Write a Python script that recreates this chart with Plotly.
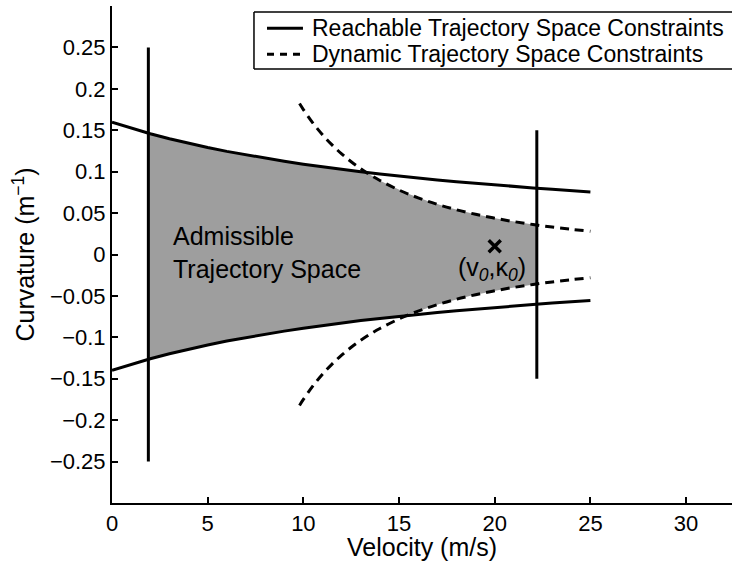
import numpy as np
import plotly.graph_objects as go

# ---- data ----
reach_v = [0, 1, 2, 3, 4, 5, 6, 7, 8, 9, 10, 11, 12, 13, 14, 15, 16, 17, 18, 19, 20, 21, 22, 23, 24, 25]
reach_upper = [0.1597, 0.1524, 0.1458, 0.1398, 0.1343, 0.1292, 0.1245, 0.1202, 0.1162, 0.1125, 0.1090,
               0.1057, 0.1027, 0.0998, 0.0972, 0.0946, 0.0923, 0.0900, 0.0879, 0.0858, 0.0839, 0.0821,
               0.0804, 0.0787, 0.0771, 0.0756]
reach_lower = [-0.1397, -0.1324, -0.1258, -0.1198, -0.1143, -0.1092, -0.1045, -0.1002, -0.0962, -0.0925,
               -0.0890, -0.0857, -0.0827, -0.0798, -0.0772, -0.0746, -0.0723, -0.0700, -0.0679, -0.0658,
               -0.0639, -0.0621, -0.0604, -0.0587, -0.0571, -0.0556]

dyn_v = [9.8, 10, 10.5, 11, 11.5, 12, 12.5, 13, 13.5, 14, 15, 16, 17, 18, 19, 20, 21, 22, 23, 24, 25]
dyn_upper = [0.1822, 0.1750, 0.1587, 0.1446, 0.1323, 0.1215, 0.1120, 0.1036, 0.0960, 0.0893, 0.0778,
             0.0684, 0.0606, 0.0540, 0.0485, 0.0438, 0.0397, 0.0362, 0.0331, 0.0304, 0.0280]
dyn_lower = [-k for k in dyn_upper]

v_min_line = [1.9, -0.25, 0.25]     # velocity, curvature bottom, curvature top
v_max_line = [22.2, -0.15, 0.15]
current_state = [20.0, 0.01]

x_ticks = [0, 5, 10, 15, 20, 25, 30]
y_ticks = [-0.25, -0.2, -0.15, -0.1, -0.05, 0, 0.05, 0.1, 0.15, 0.2, 0.25]
y_tick_text = ["\u22120.25", "\u22120.2", "\u22120.15", "\u22120.1", "\u22120.05", "0",
               "0.05", "0.1", "0.15", "0.2", "0.25"]

legend_labels = ["Reachable Trajectory Space Constraints", "Dynamic Trajectory Space Constraints"]

# ---- admissible region (derived from the constraint curves) ----
vv = np.linspace(v_min_line[0], v_max_line[0], 300)
up = np.interp(vv, reach_v, reach_upper)
lo = np.interp(vv, reach_v, reach_lower)
has_dyn = vv >= dyn_v[0]
up = np.where(has_dyn, np.minimum(up, np.interp(vv, dyn_v, dyn_upper)), up)
lo = np.where(has_dyn, np.maximum(lo, np.interp(vv, dyn_v, dyn_lower)), lo)

FONT = "Liberation Sans, Arial, Helvetica, sans-serif"
fig = go.Figure()

fig.add_trace(go.Scatter(
    x=np.concatenate([vv, vv[::-1]]), y=np.concatenate([up, lo[::-1]]),
    fill="toself", fillcolor="#9e9e9e", line=dict(width=0), mode="lines",
    showlegend=False, hoverinfo="skip"))

solid = dict(color="black", width=3)
dashed = dict(color="black", width=3, dash="9px,6px")

fig.add_trace(go.Scatter(x=reach_v, y=reach_upper, mode="lines", line=solid,
                         name=legend_labels[0], showlegend=False))
fig.add_trace(go.Scatter(x=reach_v, y=reach_lower, mode="lines", line=solid, showlegend=False))
fig.add_trace(go.Scatter(x=dyn_v, y=dyn_upper, mode="lines", line=dict(**dashed, shape="spline"),
                         name=legend_labels[1], showlegend=False))
fig.add_trace(go.Scatter(x=dyn_v, y=dyn_lower, mode="lines", line=dict(**dashed, shape="spline"),
                         showlegend=False))
fig.add_trace(go.Scatter(x=[v_min_line[0], v_min_line[0]], y=[v_min_line[1], v_min_line[2]],
                         mode="lines", line=solid, showlegend=False))
fig.add_trace(go.Scatter(x=[v_max_line[0], v_max_line[0]], y=[v_max_line[1], v_max_line[2]],
                         mode="lines", line=solid, showlegend=False))
fig.add_trace(go.Scatter(x=[current_state[0]], y=[current_state[1]], mode="markers",
                         marker=dict(symbol="x-thin", size=12, line=dict(color="black", width=3.5)),
                         showlegend=False))

fig.add_annotation(x=3.1, y=0.003, xref="x", yref="y", xanchor="left", yanchor="middle",
                   text="Admissible<br>Trajectory Space", showarrow=False, align="left",
                   font=dict(family=FONT, size=25, color="black"))
fig.add_annotation(x=19.85, y=-0.017, xref="x", yref="y", xanchor="center", yanchor="middle",
                   text="(v<sub><i>0</i></sub>,κ<sub><i>0</i></sub>)", showarrow=False,
                   font=dict(family=FONT, size=25, color="black"))

# ---- legend box (drawn in paper coordinates, open at the right edge like the reference) ----
LX0, LX1, LY0, LY1 = 0.229, 1.0, 0.873, 0.988
border = dict(color="black", width=1.5)
fig.add_shape(type="rect", xref="paper", yref="paper", x0=LX0, x1=LX1, y0=LY0, y1=LY1,
              line=dict(width=0), fillcolor="white", layer="above")
fig.add_shape(type="line", xref="paper", yref="paper", x0=LX0, x1=LX1, y0=LY1, y1=LY1,
              line=border, layer="above")
fig.add_shape(type="line", xref="paper", yref="paper", x0=LX0, x1=LX1, y0=LY0, y1=LY0,
              line=border, layer="above")
fig.add_shape(type="line", xref="paper", yref="paper", x0=LX0, x1=LX0, y0=LY0, y1=LY1,
              line=border, layer="above")
fig.add_shape(type="line", xref="paper", yref="paper", x0=0.250, x1=0.308, y0=0.955, y1=0.955,
              line=dict(color="black", width=3), layer="above")
fig.add_shape(type="line", xref="paper", yref="paper", x0=0.250, x1=0.308, y0=0.903, y1=0.903,
              line=dict(color="black", width=3, dash="7px,6px"), layer="above")
for label, yy in zip(legend_labels, [0.955, 0.903]):
    fig.add_annotation(x=0.320, y=yy, xref="paper", yref="paper", xanchor="left", yanchor="middle",
                       text=label, showarrow=False, font=dict(family=FONT, size=23, color="black"))

fig.update_layout(
    width=732, height=561,
    margin=dict(l=112, r=0, t=6, b=58, autoexpand=False),
    paper_bgcolor="white", plot_bgcolor="white",
    font=dict(family=FONT, size=22, color="black"),
    showlegend=False,
    xaxis=dict(range=[0, 32.4], tickvals=x_ticks, ticktext=[str(t) for t in x_ticks],
               showline=True, linecolor="black", linewidth=2, mirror=False,
               ticks="inside", ticklen=6, tickwidth=1.5, tickcolor="black",
               showgrid=False, zeroline=False,
               title=dict(text="Velocity (m/s)", font=dict(size=25), standoff=0),
               automargin=False),
    yaxis=dict(range=[-0.3, 0.3], tickvals=y_ticks, ticktext=y_tick_text,
               showline=True, linecolor="black", linewidth=2, mirror=False,
               ticks="inside", ticklen=6, tickwidth=1.5, tickcolor="black",
               showgrid=False, zeroline=False,
               title=dict(text="Curvature (m<sup>\u22121</sup>)", font=dict(size=25), standoff=8),
               automargin=False),
)

fig.write_html("out.html")
